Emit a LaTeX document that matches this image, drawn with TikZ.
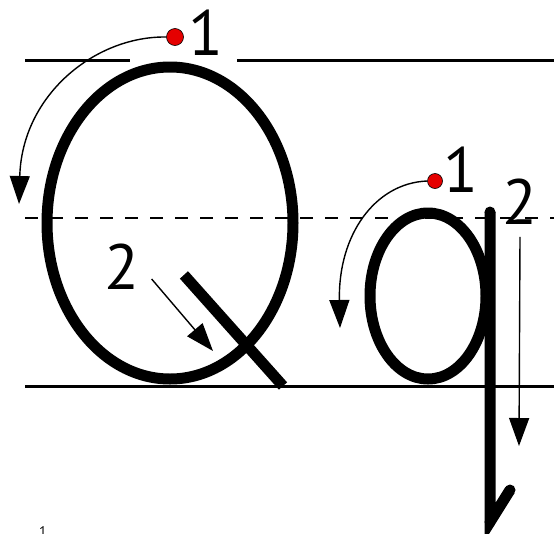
\documentclass[tikz,border=0pt]{standalone}
\usepackage{fontspec}
\setmainfont{PT Sans}
\usepackage{tikz}
\usetikzlibrary{arrows.meta,positioning,calc}

\begin{document}
\begin{tikzpicture}[x=1pt, y=-1pt,
  guide/.style={line width=3pt},
  midguide/.style={line width=1.6pt, dash pattern=on 13pt off 12pt},
  letter/.style={line width=11pt, line cap=round},
  hint/.style={line width=1.4pt, -{Triangle[length=28pt, width=20pt]}},
  startdot/.style={circle, fill=red!90!black, draw=black, line width=0.6pt, inner sep=0pt, minimum size=17pt},
  num/.style={inner sep=0pt, font=\fontsize{64}{64}\selectfont}]
  \useasboundingbox (0,0) rectangle (554,533);
  % writing lines
  \draw[guide] (25,60) -- (130,60);
  \draw[guide] (237,60) -- (554,60);
  \draw[midguide] (25,218) -- (554,218);
  \draw[guide] (25,386) -- (554,386);
  % capital Q
  \draw[letter] (170,223) ellipse [x radius=123, y radius=156];
  \draw[letter, line cap=butt] (184,275) -- (283,386);
  \draw[letter, line cap=butt] (184,275) -- +(0.1,0.1);
  \node[startdot] (dotQ) at (175,37) {};
  \node[num] (oneQ) at (206,33) {1};
  \coordinate (tipQ) at (19,204);
  \draw[hint] (dotQ.west) .. controls (95,36) and (22,95) .. (tipQ);
  \node[num] (twoQ) at (122,267) {2};
  \coordinate (tipQt) at (213,351);
  \draw[hint] ($(twoQ.east)+(12,12)$) -- (tipQt);
  % small q
  \draw[letter] (428,296) ellipse [x radius=58, y radius=83];
  \draw[letter, line cap=butt] (490,212) -- (490,522) -- (510,490);
  \fill (490,212) circle (5.5pt);
  \fill (490,522) circle (5.5pt);
  \fill (510,490) circle (5.5pt);
  \node[startdot, minimum size=15pt] (dotq) at (435,181) {};
  \node[num] (oneq) at (461,170) {1};
  \coordinate (tipq) at (340,328);
  \draw[hint] (dotq.west) .. controls (375,183) and (338,235) .. (tipq);
  \node[num] (twoq) at (520,202) {2};
  \coordinate (tipqs) at (519,446);
  \draw[hint] ($(twoq.south)+(0,12)$) -- (tipqs);
  % cut-off note mark
  \node[inner sep=0pt, anchor=north, font=\fontsize{14}{14}\selectfont] (note) at (43,526) {1};
\end{tikzpicture}
\end{document}
